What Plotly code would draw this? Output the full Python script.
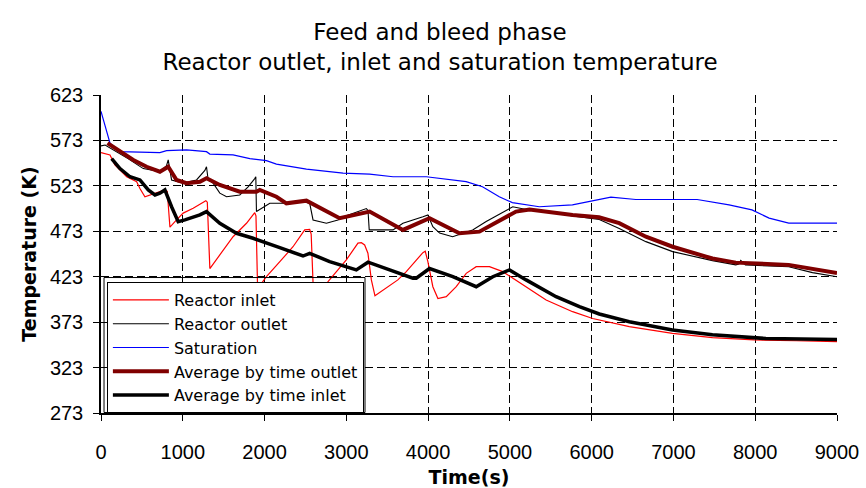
import plotly.graph_objects as go

# ---------------- data ----------------
inlet_t = [0, 110, 170, 232, 314, 436, 476, 537, 598, 700, 781, 810, 843, 924, 1005, 1127, 1282, 1300,
           1331, 1615, 1779, 1880, 1895, 1915, 2023, 2206, 2348, 2491, 2552, 2570, 2600, 2776, 3000, 3142,
           3184, 3224, 3264, 3306, 3350, 3630, 3733, 3936, 3965, 3997, 4058, 4120, 4222, 4344, 4466, 4588,
           4750, 4913, 5198, 5443, 5767, 6012, 6460, 6988, 7477, 7986, 8500, 9000]
inlet_T = [559.5, 557, 546, 540.5, 533, 527.6, 520, 511, 513, 516.6, 518.5, 517, 477.5, 485.5, 493, 498.3, 506.7, 505,
           432, 467, 481.8, 493.5, 490, 410, 423, 441.5, 456, 474.5, 475, 470, 400, 417.6, 441.5, 460,
           460.5, 458, 448.8, 419.5, 402, 419.5, 428.6, 449.5, 451, 439.6, 412, 399, 401, 412, 426.7, 434,
           434, 428.6, 412, 397.4, 384.5, 377, 368, 360.7, 356, 353.5, 352.5, 351.5]

outlet_t = [0, 50, 330, 517, 720, 800, 822, 863, 1005, 1168, 1270, 1290, 1310, 1371, 1453, 1535, 1697, 1799,
            1880, 1893, 1901, 2023, 2064, 2267, 2470, 2552, 2593, 2756, 2898, 3000, 3204, 3245, 3265, 3280,
            3571, 3692, 3937, 3997, 4058, 4140, 4300, 4545, 4710, 4955, 5035, 5200, 5360, 5767, 6093, 6337,
            6663, 6990, 7477, 7762, 7800, 7823, 7880, 8410, 8700, 9000]
outlet_T = [567, 568, 553, 542, 538.6, 545, 551.5, 529.5, 526, 529.5, 540, 544, 530, 526, 515, 511, 513, 522,
            531, 533, 494.7, 502, 503.8, 503.8, 505.6, 503.8, 485.5, 481.8, 485.5, 490, 496.5, 498, 496, 474.5,
            474.5, 481.8, 489, 491, 478, 471, 467, 474.5, 483.7, 496.5, 500, 497, 496.5, 490, 486, 476,
            461.6, 450.6, 440.7, 436, 437, 441, 436, 434, 427.5, 423]

sat_t = [0, 50, 110, 232, 720, 802, 1046, 1290, 1331, 1615, 1820, 2023, 2145, 2512, 2960, 3285, 3571, 3978,
         4140, 4465, 4665, 4870, 5030, 5360, 5765, 6070, 6235, 6540, 7290, 7680, 7960, 8170, 8410, 9000]
sat_T = [605, 590, 570, 560.6, 559.5, 561.7, 562.5, 560.6, 558, 557, 553, 550.7, 547, 541.5, 537, 536, 533, 533,
         531.4, 527.7, 522, 511, 504.5, 500, 502, 507.5, 510.5, 508, 508, 502, 496.5, 487.5, 482, 482]

avg_out_t = [80, 232, 395, 558, 720, 822, 924, 1046, 1209, 1290, 1453, 1697, 1901, 1941, 2145, 2267, 2512,
             2918, 3285, 3692, 4017, 4383, 4627, 5075, 5240, 5767, 6090, 6337, 6663, 6990, 7477, 7762, 8410, 9000]
avg_out_T = [570, 560.6, 551.5, 544, 538.6, 544, 529.5, 526, 527.6, 531.4, 524, 516.6, 516.6, 518.5, 511, 503.8, 506.7,
             487.4, 494.7, 474.5, 487.4, 470.8, 472.6, 494.7, 497, 491, 488.4, 482, 467, 456, 443, 438.5, 436, 427]

avg_in_t = [130, 232, 354, 476, 578, 660, 720, 781, 863, 944, 1026, 1209, 1290, 1453, 1657, 1860, 2186, 2470,
            2552, 2796, 3122, 3265, 3530, 3814, 3855, 4017, 4302, 4588, 4791, 4995, 5198, 5565, 5850, 6093,
            6460, 6988, 7477, 8130, 9000]
avg_in_T = [553, 542, 533, 529.5, 518.5, 513, 515, 518.5, 500, 483.6, 485.5, 491, 494.7, 481.8, 470.8, 465.3, 455, 445.8,
            448.8, 439.6, 430.5, 439, 430.5, 421.3, 421.3, 432, 423, 412, 423, 430.5, 419.5, 401, 390, 382,
            373.5, 364.4, 359, 355, 354]

x_ticks = [0, 1000, 2000, 3000, 4000, 5000, 6000, 7000, 8000, 9000]
y_ticks = [273, 323, 373, 423, 473, 523, 573, 623]

series = [
    ("Reactor inlet", inlet_t, inlet_T, "#FF0000", 1.2),
    ("Reactor outlet", outlet_t, outlet_T, "#000000", 1.1),
    ("Saturation", sat_t, sat_T, "#0000FF", 1.2),
    ("Average by time outlet", avg_out_t, avg_out_T, "#800000", 4),
    ("Average by time inlet", avg_in_t, avg_in_T, "#000000", 3.5),
]

fig = go.Figure()
for name, t, T, color, w in series:
    fig.add_trace(go.Scatter(x=t, y=T, mode="lines", name=name,
                             line=dict(color=color, width=w)))

tick_font = dict(family="Liberation Sans, Arial, sans-serif", size=20, color="#000000")
title_font = dict(family="DejaVu Sans, sans-serif", size=19, color="#000000")

fig.update_layout(
    width=866, height=488,
    margin=dict(l=101, r=29, t=95, b=75, autoexpand=False),
    paper_bgcolor="white", plot_bgcolor="white",
    title=dict(text="Feed and bleed phase<br>Reactor outlet, inlet and saturation temperature",
               x=440 / 866, xanchor="center", xref="container",
               y=1 - 40 / 488, yanchor="middle", yref="container",
               font=dict(family="DejaVu Sans, sans-serif", size=23, color="#000000")),
    showlegend=True,
    legend=dict(x=0.008, y=0.0, xanchor="left", yanchor="bottom",
                bgcolor="white", bordercolor="#000000", borderwidth=1,
                font=dict(family="DejaVu Sans, sans-serif", size=16, color="#000000"),
                itemwidth=56, tracegroupgap=0),
    # outer line of the legend's double frame
    shapes=[dict(type="rect", xref="paper", yref="paper",
                 x0=0.0041, x1=0.3587, y0=0.0016, y1=0.426,
                 line=dict(color="#000000", width=1), fillcolor="rgba(0,0,0,0)", layer="above")],
    xaxis=dict(range=[0, 9000], tickvals=x_ticks, ticktext=[str(v) for v in x_ticks],
               showline=True, linecolor="#000000", linewidth=1.5,
               ticks="outside", ticklen=6, tickcolor="#000000", tickwidth=1.2,
               ticklabelstandoff=14,
               showgrid=True, gridcolor="#000000", gridwidth=1, griddash="8px,4px",
               zeroline=False, tickfont=tick_font,
               title=dict(text="<b>Time(s)</b>", font=title_font, standoff=22)),
    yaxis=dict(range=[273, 623], tickvals=y_ticks, ticktext=[str(v) for v in y_ticks],
               showline=True, linecolor="#000000", linewidth=1.5,
               ticks="outside", ticklen=6, tickcolor="#000000", tickwidth=1.2,
               ticklabelstandoff=6,
               showgrid=True, gridcolor="#000000", gridwidth=1, griddash="8px,4px",
               zeroline=False, tickfont=tick_font,
               title=dict(text="<b>Temperature (K)</b>", font=title_font, standoff=8)),
)

fig.write_html("out.html")
